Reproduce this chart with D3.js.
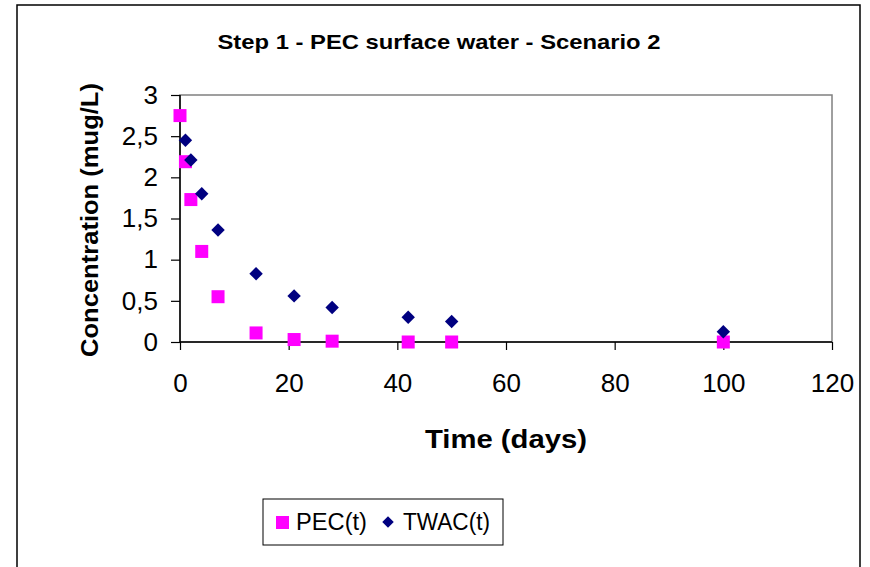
<!DOCTYPE html>
<html>
<head>
<meta charset="utf-8">
<script src="https://cdn.jsdelivr.net/npm/d3@7"></script>
<style>
  body { margin: 0; background: #fff; }
  text { font-family: Arial, "Liberation Sans", sans-serif; }
</style>
</head>
<body>
<div id="chart"></div>
<script>
// data
var days = [0, 1, 2, 4, 7, 14, 21, 28, 42, 50, 100];
var pec = [2.75, 2.19, 1.73, 1.10, 0.55, 0.11, 0.03, 0.01, 0.0, 0.0, 0.0];
var twacDays = [1, 2, 4, 7, 14, 21, 28, 42, 50, 100];
var twac = [2.45, 2.21, 1.80, 1.36, 0.83, 0.56, 0.42, 0.30, 0.25, 0.125];
var xTicks = [0, 20, 40, 60, 80, 100, 120];
var yTicks = [0, 0.5, 1, 1.5, 2, 2.5, 3];

var svgWidth = 870, svgHeight = 567;
var margin = { top: 95, left: 180 };
var width = 652, height = 247;

var svg = d3.select("#chart").append("svg")
  .attr("width", svgWidth)
  .attr("height", svgHeight);

// outer chart frame (bottom runs off the page)
svg.append("path")
  .attr("d", "M17,600 V5 H860 V600")
  .attr("fill", "none")
  .attr("stroke", "#000")
  .attr("stroke-width", 1.5);

svg.append("text")
  .attr("x", 439)
  .attr("y", 49)
  .attr("text-anchor", "middle")
  .attr("font-size", 21)
  .attr("font-weight", "bold")
  .attr("textLength", 443)
  .attr("lengthAdjust", "spacingAndGlyphs")
  .text("Step 1 - PEC surface water - Scenario 2");

var chartGroup = svg.append("g")
  .attr("transform", `translate(${margin.left}, ${margin.top})`);

var xScale = d3.scaleLinear().domain([0, 120]).range([0, width]);
var yScale = d3.scaleLinear().domain([0, 3]).range([height, 0]);

// plot area border
chartGroup.append("rect")
  .attr("width", width)
  .attr("height", height)
  .attr("fill", "none")
  .attr("stroke", "#808080")
  .attr("stroke-width", 1.5);

var fmt = d => String(d).replace(".", ",");

var xAxis = d3.axisBottom(xScale).tickValues(xTicks).tickFormat(fmt).tickSize(8).tickPadding(24);
var yAxis = d3.axisLeft(yScale).tickValues(yTicks).tickFormat(fmt).tickSize(9).tickPadding(13);

var gx = chartGroup.append("g")
  .attr("transform", `translate(0, ${height})`)
  .call(xAxis);
var gy = chartGroup.append("g").call(yAxis);

[gx, gy].forEach(function(g) {
  g.select(".domain").attr("stroke", "#000").attr("stroke-width", 1.5);
  g.selectAll(".tick line").attr("stroke", "#000").attr("stroke-width", 1.2);
  g.selectAll(".tick text")
    .attr("font-size", 26)
    .attr("font-family", "Arial, 'Liberation Sans', sans-serif")
    .attr("fill", "#000");
});
gx.select(".domain").attr("d", `M0,0H${width}`);
gy.select(".domain").attr("d", `M0,${height}V0`);

// PEC squares
var sq = 13;
chartGroup.append("g").selectAll("rect")
  .data(days.map((d, i) => ({ t: d, v: pec[i] })))
  .enter()
  .append("rect")
  .attr("x", d => xScale(d.t) - sq / 2)
  .attr("y", d => yScale(d.v) - sq / 2)
  .attr("width", sq)
  .attr("height", sq)
  .attr("fill", "#ff00ff");

// TWAC diamonds
var dm = d3.symbol().type(d3.symbolDiamond2).size(115);
chartGroup.append("g").selectAll("path")
  .data(twacDays.map((d, i) => ({ t: d, v: twac[i] })))
  .enter()
  .append("path")
  .attr("d", dm)
  .attr("transform", d => `translate(${xScale(d.t)}, ${yScale(d.v)})`)
  .attr("fill", "#000080");

// axis titles
svg.append("text")
  .attr("transform", "translate(98, 220) rotate(-90)")
  .attr("text-anchor", "middle")
  .attr("font-size", 24)
  .attr("font-weight", "bold")
  .attr("textLength", 274)
  .attr("lengthAdjust", "spacingAndGlyphs")
  .text("Concentration (mug/L)");

svg.append("text")
  .attr("x", 506)
  .attr("y", 448)
  .attr("text-anchor", "middle")
  .attr("font-size", 26)
  .attr("font-weight", "bold")
  .attr("textLength", 162)
  .attr("lengthAdjust", "spacingAndGlyphs")
  .text("Time (days)");

// legend
var legend = svg.append("g");
legend.append("rect")
  .attr("x", 263).attr("y", 499)
  .attr("width", 240).attr("height", 46)
  .attr("fill", "#fff")
  .attr("stroke", "#000")
  .attr("stroke-width", 1);
legend.append("rect")
  .attr("x", 276).attr("y", 516)
  .attr("width", 13).attr("height", 13)
  .attr("fill", "#ff00ff");
legend.append("text")
  .attr("x", 296).attr("y", 530)
  .attr("font-size", 23)
  .attr("textLength", 71)
  .attr("lengthAdjust", "spacingAndGlyphs")
  .text("PEC(t)");
legend.append("path")
  .attr("d", d3.symbol().type(d3.symbolDiamond2).size(85)())
  .attr("transform", "translate(388, 522)")
  .attr("fill", "#000080");
legend.append("text")
  .attr("x", 403).attr("y", 530)
  .attr("font-size", 23)
  .attr("textLength", 87)
  .attr("lengthAdjust", "spacingAndGlyphs")
  .text("TWAC(t)");
</script>
</body>
</html>
